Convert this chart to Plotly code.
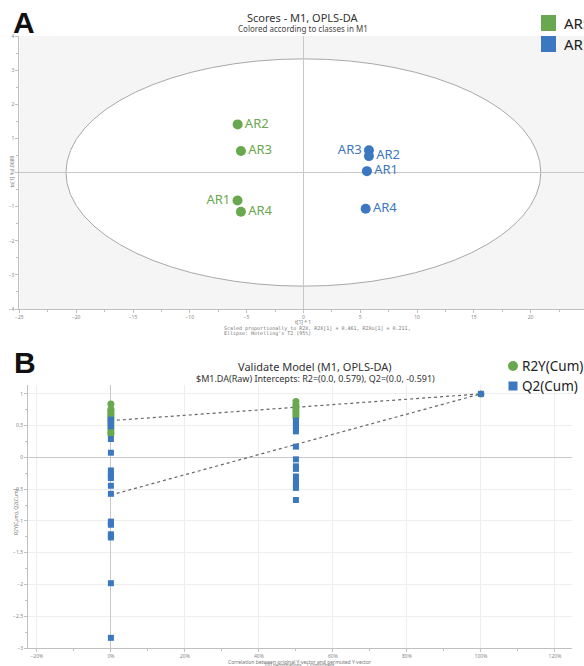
import plotly.graph_objects as go

W, H = 584, 666

# ---------------- Data: Panel A (OPLS-DA scores) ----------------
sample_labels = ["AR1", "AR2", "AR3", "AR4"]
group_names = ["ARS", "ARF"]
green_t1 = [-5.80, -5.79, -5.50, -5.50]
green_to1 = [-0.82, 1.41, 0.63, -1.15]
blue_t1 = [5.59, 5.77, 5.77, 5.48]
blue_to1 = [0.04, 0.48, 0.65, -1.06]
green_text_pos = ["middle left", "middle right", "middle right", "middle right"]
blue_text_pos = ["middle right", "middle right", "middle left", "middle right"]
ellipse_a, ellipse_b = 20.9, 3.33   # Hotelling's T2 (95%) semi-axes

# ---------------- Data: Panel B (permutation test) ----------------
r2y_perm_x0 = [0.84, 0.76, 0.73, 0.70, 0.67, 0.64, 0.61, 0.58, 0.55, 0.51, 0.47, 0.43, 0.39, 0.37]
q2_perm_x0 = [0.595, 0.54, 0.49, 0.29, 0.074, -0.205, -0.257, -0.30, -0.325, -0.446, -0.573,
              -1.01, -1.035, -1.06, -1.21, -1.235, -1.26, -1.98, -2.84]
r2y_perm_x50 = [0.879, 0.826, 0.79, 0.75, 0.716, 0.67, 0.63]
q2_perm_x50 = [0.58, 0.54, 0.50, 0.45, 0.41, 0.17, -0.03, -0.14, -0.18, -0.30, -0.38, -0.43, -0.48, -0.67]
corr_a, corr_b, corr_orig = 0.0, 0.5, 1.0
r2y_orig, q2_orig = 1.0, 1.0
r2_intercept, q2_intercept = 0.579, -0.591
legend_b_names = ["R2Y(Cum)", "Q2(Cum)"]

GREEN = "#6aa84f"
BLUE = "#3c78c0"
FONT = "Noto Sans"


def px(x, y):
    return x / W, 1 - y / H


fig = go.Figure()

# Panel A points
fig.add_trace(go.Scatter(x=green_t1, y=green_to1, mode="markers+text", text=sample_labels,
                         textposition=green_text_pos, textfont=dict(color=GREEN, size=13, family=FONT),
                         marker=dict(color=GREEN, size=10), name=group_names[0], showlegend=False,
                         xaxis="x", yaxis="y"))
fig.add_trace(go.Scatter(x=blue_t1, y=blue_to1, mode="markers+text", text=sample_labels,
                         textposition=blue_text_pos, textfont=dict(color=BLUE, size=13, family=FONT),
                         marker=dict(color=BLUE, size=10), name=group_names[1], showlegend=False,
                         xaxis="x", yaxis="y"))

# Panel B
r2x = [corr_a] * len(r2y_perm_x0) + [corr_b] * len(r2y_perm_x50) + [corr_orig]
r2y = r2y_perm_x0 + r2y_perm_x50 + [r2y_orig]
q2x = [corr_a] * len(q2_perm_x0) + [corr_b] * len(q2_perm_x50) + [corr_orig]
q2y = q2_perm_x0 + q2_perm_x50 + [q2_orig]
fig.add_trace(go.Scatter(x=[0, corr_orig], y=[r2_intercept, r2y_orig], mode="lines",
                         line=dict(color="#666", width=1.2, dash="dot"), showlegend=False,
                         xaxis="x2", yaxis="y2"))
fig.add_trace(go.Scatter(x=[0, corr_orig], y=[q2_intercept, q2_orig], mode="lines",
                         line=dict(color="#666", width=1.2, dash="dot"), showlegend=False,
                         xaxis="x2", yaxis="y2"))
fig.add_trace(go.Scatter(x=r2x, y=r2y, mode="markers", marker=dict(color=GREEN, size=7),
                         name=legend_b_names[0], showlegend=False, xaxis="x2", yaxis="y2"))
fig.add_trace(go.Scatter(x=q2x, y=q2y, mode="markers", marker=dict(color=BLUE, size=6, symbol="square"),
                         name=legend_b_names[1], showlegend=False, xaxis="x2", yaxis="y2"))

tickfont = dict(size=5, color="#888", family=FONT)
axcommon = dict(showline=True, linecolor="#c0c0c0", ticks="outside", ticklen=3, tickcolor="#c0c0c0",
                tickfont=tickfont, zeroline=True, zerolinecolor="#c8c8c8", zerolinewidth=1)


def rect_px(x0, y0, x1, y1, color, kind="rect"):
    return dict(type=kind, xref="paper", yref="paper", x0=x0 / W, x1=x1 / W,
                y0=1 - y1 / H, y1=1 - y0 / H, fillcolor=color, line=dict(width=0))


shapes = [
    dict(type="rect", xref="x domain", yref="y domain", x0=0, x1=1, y0=0, y1=1,
         fillcolor="#f5f5f5", line=dict(width=0), layer="below"),
    dict(type="circle", xref="x", yref="y", x0=-ellipse_a, x1=ellipse_a, y0=-ellipse_b, y1=ellipse_b,
         fillcolor="white", line=dict(color="#a8a8a8", width=1), layer="below"),
    # legend symbols, panel A
    rect_px(541, 15, 556, 31, GREEN),
    rect_px(541, 36, 556, 52, BLUE),
    # legend symbols, panel B
    rect_px(508, 361, 518, 371, GREEN, "circle"),
    rect_px(508.5, 381.5, 517.5, 390.5, BLUE),
]

fig.update_layout(
    width=W, height=H, margin=dict(l=0, r=0, t=0, b=0, autoexpand=False),
    paper_bgcolor="white", plot_bgcolor="white",
    font=dict(family=FONT), showlegend=False,
    xaxis=dict(domain=[19.4 / W, 1], range=[-25, 24.7], anchor="y", dtick=5, tick0=0,
               showgrid=False, minor=dict(dtick=2.5, ticks="outside", ticklen=2, tickcolor="#c0c0c0"),
               **axcommon),
    yaxis=dict(domain=[1 - 309 / H, 1 - 36 / H], range=[-4, 4], anchor="x", dtick=1,
               showgrid=False, minor=dict(dtick=0.5, ticks="outside", ticklen=2, tickcolor="#c0c0c0"),
               **axcommon),
    xaxis2=dict(domain=[28 / W, 572 / W], range=[-0.224, 1.246], anchor="y2",
                tickvals=[-0.2, 0, 0.2, 0.4, 0.6, 0.8, 1.0, 1.2], tickformat=".0%",
                showgrid=True, gridcolor="#eeeeee",
                minor=dict(dtick=0.1, tick0=0, ticks="outside", ticklen=2, tickcolor="#c0c0c0"),
                **axcommon),
    yaxis2=dict(domain=[1 - 648 / H, 1 - 385 / H], range=[-3.0, 1.14], anchor="x2", dtick=0.5,
                showgrid=True, gridcolor="#eeeeee",
                minor=dict(dtick=0.25, ticks="outside", ticklen=2, tickcolor="#c0c0c0"),
                **axcommon),
    shapes=shapes,
)

ann = []


def add_text(x, y, text, size, color="#333", xanchor="center", yanchor="middle", bold=False, angle=0, family=FONT):
    fx, fy = px(x, y)
    ann.append(dict(x=fx, y=fy, xref="paper", yref="paper", text=f"<b>{text}</b>" if bold else text,
                    showarrow=False, xanchor=xanchor, yanchor=yanchor, textangle=angle,
                    font=dict(size=size, color=color, family=family)))


add_text(24, 22, "A", 30, "#111", bold=True, family="Liberation Sans")
add_text(25, 362, "B", 30, "#111", bold=True, family="Liberation Sans")
add_text(303, 17, "Scores - M1, OPLS-DA", 11, "#333")
add_text(303, 29, "Colored according to classes in M1", 8, "#444")
add_text(303, 322, "t[1] * 1", 5, "#777")
add_text(222, 328.5, "Scaled proportionally to R2X, R2X[1] = 0.461, R2Xo[1] = 0.211,", 5, "#777",
         xanchor="left", family="DejaVu Sans Mono")
add_text(222, 333.5, "Ellipse: Hotelling's T2 (95%)", 5, "#777", xanchor="left", family="DejaVu Sans Mono")
add_text(11.5, 172, "to[1] * 1.0689", 5, "#777", angle=-90)
# legend texts
add_text(562, 23, group_names[0], 15, "#222", xanchor="left")
add_text(562, 44, group_names[1], 15, "#222", xanchor="left")
add_text(520, 366, legend_b_names[0], 13.5, "#222", xanchor="left")
add_text(520, 386, legend_b_names[1], 13.5, "#222", xanchor="left")
add_text(315, 366, "Validate Model (M1, OPLS-DA)", 11, "#333")
add_text(315, 378, "$M1.DA(Raw) Intercepts: R2=(0.0, 0.579), Q2=(0.0, -0.591)", 9, "#333")
add_text(299, 661.5, "Correlation between original Y-vector and permuted Y-vector", 5, "#777")
add_text(299, 665.3, "100 permutations    1 component", 4.5, "#777")
add_text(16, 512, "R2Y(Cum), Q2(Cum)", 5, "#777", angle=-90)
fig.update_layout(annotations=ann)

fig.write_html("out.html", config={"displayModeBar": False},
               post_script="document.body.style.margin='0';")
